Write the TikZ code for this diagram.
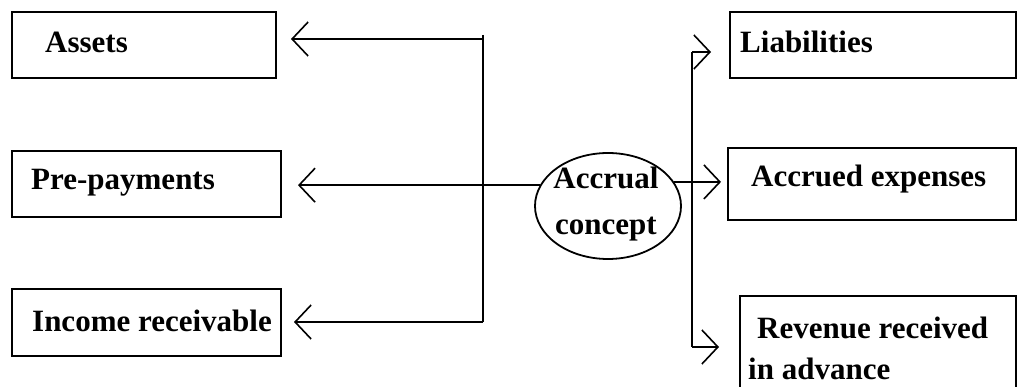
\documentclass[tikz,border=0pt]{standalone}
\usepackage{fontspec}
\setmainfont{Liberation Serif}
\usetikzlibrary{arrows.meta,shapes.geometric}
\begin{document}
\begin{tikzpicture}[x=1pt,y=-1pt,
  boxnode/.style={draw,line width=2pt,rectangle,inner sep=0pt},
  txt/.style={anchor=base west,inner sep=0pt,font=\fontsize{31}{37}\selectfont\bfseries},
  ctxt/.style={anchor=base,inner sep=0pt,font=\fontsize{31}{37}\selectfont\bfseries},
  conn/.style={line width=1.6pt},
  arrline/.style={line width=1.6pt,-{Straight Barb[length=16pt,width=34pt]}}]
\useasboundingbox (0,0) rectangle (1018,387);
\clip (0,0) rectangle (1018,387);
% left boxes
\node[boxnode,minimum width=264pt,minimum height=66pt] (assets) at (144,45) {};
\node[boxnode,minimum width=269pt,minimum height=66pt] (prepay) at (146.5,184) {};
\node[boxnode,minimum width=269pt,minimum height=67pt] (income) at (146.5,322.5) {};
\node[txt] (tassets) at (45,53) {Assets};
\node[txt] (tprepay) at (31,190) {Pre-payments};
\node[txt] (tincome) at (32,332) {Income receivable};
% right boxes
\node[boxnode,minimum width=286pt,minimum height=66pt] (liab) at (873,45) {};
\node[boxnode,minimum width=288pt,minimum height=72pt] (accr) at (872,184) {};
\node[boxnode,minimum width=276pt,minimum height=110pt] (rev) at (878,351) {};
\node[txt] (tliab) at (740,53) {Liabilities};
\node[txt] (taccr) at (751,187) {Accrued expenses};
\node[txt] (trev1) at (757,339) {Revenue received};
\node[txt] (trev2) at (748,380) {in advance};
% centre
\node[draw,ellipse,line width=1.8pt,minimum width=146pt,minimum height=106pt,inner sep=0pt] (acc) at (608,206) {};
\node[ctxt] (tacc1) at (606,189) {Accrual};
\node[ctxt] (tacc2) at (606,235) {concept};
% junctions
\coordinate (lt) at (483,35);
\coordinate (l1) at (483,39);
\coordinate (l3) at (483,322);
\coordinate (rt) at (692,52);
\coordinate (rb) at (692,347);
% connectors left
\draw[conn] (lt) -- (l3);
\draw[arrline,shorten >=14pt] (l1) -- (l1 -| assets.east);
\draw[arrline,shorten >=16pt] (acc.163) -- (acc.163 -| prepay.east);
\draw[arrline,shorten >=12pt] (l3) -- (l3 -| income.east);
% connectors right
\draw[conn] (rt) -- (rb);
\draw[arrline,shorten >=18pt] (rt) -- (rt -| liab.west);
\draw[arrline,shorten >=6pt] (acc.20) -- (acc.20 -| accr.west);
\draw[arrline,shorten >=20pt] (rb) -- (rb -| rev.west);
\end{tikzpicture}
\end{document}
